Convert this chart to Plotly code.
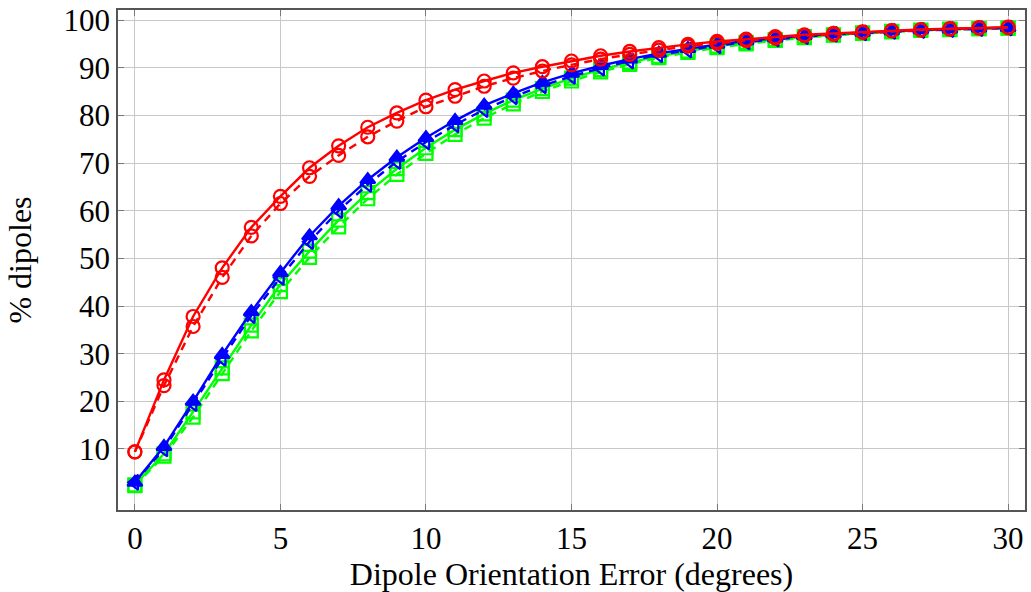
import plotly.graph_objects as go

x = list(range(0, 31))

red_solid = [9.4, 24.5, 37.8, 48.0, 56.5, 63.0, 69.0, 73.6, 77.5, 80.5, 83.2, 85.4, 87.2, 88.9, 90.2, 91.4,
             92.5, 93.4, 94.2, 94.9, 95.5, 96.0, 96.5, 96.9, 97.2, 97.5, 97.8, 98.0, 98.2, 98.4, 98.5]
red_dashed = [9.4, 23.3, 35.7, 46.0, 54.7, 61.5, 67.2, 71.6, 75.5, 78.8, 81.8, 84.0, 86.1, 87.8, 89.3, 90.6,
              91.8, 92.8, 93.7, 94.5, 95.1, 95.7, 96.2, 96.7, 97.0, 97.4, 97.7, 97.9, 98.1, 98.3, 98.4]
blue_solid = [3.0, 10.5, 20.0, 29.8, 38.8, 47.0, 54.7, 61.0, 66.5, 71.2, 75.3, 78.9, 82.1, 84.6, 86.9, 88.8,
              90.4, 91.8, 93.0, 94.0, 94.9, 95.6, 96.2, 96.7, 97.1, 97.4, 97.7, 97.9, 98.1, 98.3, 98.4]
blue_dashed = [3.0, 10.0, 19.5, 29.0, 38.0, 46.0, 53.5, 60.0, 65.5, 70.3, 74.4, 78.0, 81.2, 83.9, 86.2, 88.2,
               89.9, 91.4, 92.7, 93.7, 94.6, 95.4, 96.0, 96.5, 97.0, 97.3, 97.6, 97.8, 98.0, 98.2, 98.3]
green_solid = [2.5, 9.0, 17.8, 27.0, 36.0, 44.5, 51.5, 58.0, 63.8, 68.8, 73.2, 77.0, 80.3, 83.2, 85.6, 87.8,
               89.6, 91.1, 92.4, 93.5, 94.5, 95.3, 95.9, 96.5, 96.9, 97.3, 97.6, 97.9, 98.1, 98.2, 98.3]
green_dashed = [2.3, 8.5, 16.7, 25.8, 34.8, 43.0, 50.2, 56.6, 62.5, 67.6, 72.0, 76.0, 79.4, 82.4, 85.0, 87.2,
                89.1, 90.7, 92.1, 93.2, 94.2, 95.0, 95.7, 96.3, 96.8, 97.2, 97.5, 97.8, 98.0, 98.2, 98.3]

x_ticks = [0, 5, 10, 15, 20, 25, 30]
y_ticks = [10, 20, 30, 40, 50, 60, 70, 80, 90, 100]

RED = "#ff0000"
BLUE = "#0000ff"
GREEN = "#00ff00"

series = [
    (green_dashed, GREEN, "dash", "square-open"),
    (green_solid, GREEN, "solid", "square-open"),
    (blue_dashed, BLUE, "dash", "triangle-left-open"),
    (blue_solid, BLUE, "solid", "triangle-up"),
    (red_dashed, RED, "dash", "circle-open"),
    (red_solid, RED, "solid", "circle-open"),
]

fig = go.Figure()
for ys, col, dash, sym in series:
    fig.add_trace(go.Scatter(
        x=x, y=ys, mode="lines+markers",
        line=dict(color=col, width=2.4, dash=dash if dash == "solid" else "8px,6px"),
        marker=dict(symbol=sym, size=13, color=col, line=dict(color=col, width=2.2)),
        showlegend=False,
    ))

axis_common = dict(
    showgrid=True, gridcolor="#c8c8c8", gridwidth=1,
    showline=True, linecolor="#555555", linewidth=1.5, mirror="ticks",
    ticks="inside", ticklen=6, tickcolor="#777777",
    zeroline=False, automargin=False,
    tickfont=dict(family="Liberation Serif", size=31, color="black"),
)

fig.update_layout(
    width=1031, height=592,
    margin=dict(l=118, r=6, t=10, b=82),
    paper_bgcolor="white", plot_bgcolor="white",
    font=dict(family="Liberation Serif", color="black"),
    xaxis=dict(range=[-0.58, 30.58], tickvals=x_ticks,
               title=dict(text="Dipole Orientation Error (degrees)",
                          font=dict(family="Liberation Serif", size=32), standoff=4),
               **axis_common),
    yaxis=dict(range=[-2.8, 102.1], tickvals=y_ticks,
               title=dict(text="% dipoles", font=dict(family="Liberation Serif", size=32), standoff=22),
               **axis_common),
)

fig.write_html("out.html")
